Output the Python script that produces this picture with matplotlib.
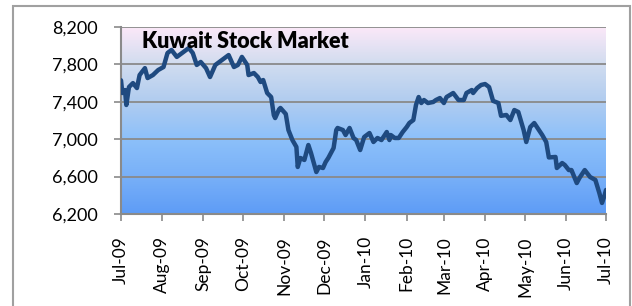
import matplotlib
matplotlib.use("Agg")
import matplotlib.pyplot as plt
import matplotlib.dates as mdates
from matplotlib.colors import LinearSegmentedColormap
from matplotlib.patches import Rectangle
import numpy as np
import datetime as dt

title = "Kuwait Stock Market"

dates = [
    "2009-07-01", "2009-07-02", "2009-07-04", "2009-07-05", "2009-07-07", "2009-07-10",
    "2009-07-13", "2009-07-15", "2009-07-19", "2009-07-21", "2009-07-25", "2009-07-29",
    "2009-08-02", "2009-08-05", "2009-08-08", "2009-08-12", "2009-08-16", "2009-08-21",
    "2009-08-24", "2009-08-27", "2009-08-30", "2009-09-03", "2009-09-06", "2009-09-10",
    "2009-09-15", "2009-09-20", "2009-09-24", "2009-09-27", "2009-09-30", "2009-10-04",
    "2009-10-05", "2009-10-09", "2009-10-12", "2009-10-14", "2009-10-16", "2009-10-19",
    "2009-10-22", "2009-10-24", "2009-10-25", "2009-10-28", "2009-10-29", "2009-11-02",
    "2009-11-04", "2009-11-07", "2009-11-10", "2009-11-11", "2009-11-13", "2009-11-16",
    "2009-11-19", "2009-11-21", "2009-11-25", "2009-11-27", "2009-11-30", "2009-12-02",
    "2009-12-04", "2009-12-08", "2009-12-10", "2009-12-11", "2009-12-15", "2009-12-17",
    "2009-12-20", "2009-12-23", "2009-12-25", "2009-12-28", "2009-12-31", "2010-01-04",
    "2010-01-07", "2010-01-10", "2010-01-13", "2010-01-17", "2010-01-19", "2010-01-20",
    "2010-01-23", "2010-01-26", "2010-01-29", "2010-02-01", "2010-02-03", "2010-02-06",
    "2010-02-08", "2010-02-10", "2010-02-12", "2010-02-14", "2010-02-17", "2010-02-21",
    "2010-02-23", "2010-02-26", "2010-03-01", "2010-03-03", "2010-03-08", "2010-03-12",
    "2010-03-16", "2010-03-18", "2010-03-22", "2010-03-23", "2010-03-26", "2010-03-29",
    "2010-04-01", "2010-04-04", "2010-04-07", "2010-04-11", "2010-04-13", "2010-04-17",
    "2010-04-20", "2010-04-23", "2010-04-26", "2010-04-30", "2010-05-02", "2010-05-05",
    "2010-05-08", "2010-05-10", "2010-05-14", "2010-05-17", "2010-05-19", "2010-05-24",
    "2010-05-25", "2010-05-29", "2010-05-31", "2010-06-03", "2010-06-05", "2010-06-09",
    "2010-06-11", "2010-06-15", "2010-06-19", "2010-06-23", "2010-06-26", "2010-06-28",
    "2010-06-30", "2010-07-01",
]

values = [
    7630, 7494, 7526, 7366, 7558, 7600,
    7547, 7686, 7760, 7654, 7686, 7740,
    7772, 7922, 7954, 7880, 7922, 7975,
    7922, 7794, 7826, 7760, 7665, 7794,
    7847, 7900, 7772, 7794, 7880, 7794,
    7686, 7708, 7665, 7612, 7633, 7494,
    7451, 7258, 7226, 7320, 7334, 7270,
    7098, 6991, 6917, 6703, 6799, 6778,
    6938, 6852, 6649, 6703, 6692, 6756,
    6799, 6906, 7098, 7120, 7098, 7045,
    7120, 7013, 6991, 6884, 7023, 7066,
    6970, 7013, 6991, 7077, 6991, 7045,
    7013, 7013, 7077, 7130, 7173, 7205,
    7366, 7451, 7387, 7419, 7387, 7398,
    7419, 7440, 7387, 7451, 7494, 7419,
    7419, 7494, 7526, 7494, 7547, 7580,
    7590, 7558, 7410, 7387, 7250, 7259,
    7205, 7312, 7291, 7098, 6970, 7130,
    7173, 7130, 7045, 6970, 6805, 6810,
    6692, 6745, 6724, 6670, 6670, 6531,
    6585, 6670, 6596, 6564, 6424, 6318,
    6403, 6457,
]

y_ticks = [6200, 6600, 7000, 7400, 7800, 8200]
x_start = "2009-07-01"
x_end = "2010-07-01"

plt.rcParams['font.family'] = ['Lato', 'DejaVu Sans']

W, H = 632, 306
fig = plt.figure(figsize=(W / 100, H / 100), dpi=100)
fig.patch.set_facecolor("white")

ax = fig.add_axes([121 / W, (H - 214) / H, (606 - 121) / W, (214 - 27) / H])

# gradient background
cmap = LinearSegmentedColormap.from_list(
    "bg",
    [(0.0, "#5e9cf6"), (0.2, "#78b0f8"), (0.4, "#8cc0fa"),
     (0.6, "#b0ccf0"), (0.8, "#d0dcef"), (1.0, "#fbe8f8")])
grad = np.linspace(0, 1, 256).reshape(-1, 1)
ax.imshow(grad, aspect="auto", cmap=cmap, origin="lower",
          extent=[0, 1, 0, 1], transform=ax.transAxes, zorder=0)

xd = [dt.datetime.strptime(d, "%Y-%m-%d") for d in dates]
ax.plot(xd, values, color="#1f4a80", lw=3.2, solid_joinstyle="round",
        solid_capstyle="round", zorder=3)

ax.set_xlim(dt.datetime.strptime(x_start, "%Y-%m-%d"),
            dt.datetime.strptime(x_end, "%Y-%m-%d"))
ax.set_ylim(y_ticks[0], y_ticks[-1])
ax.set_yticks(y_ticks)
ax.set_yticklabels([f"{v:,}" for v in y_ticks])
ax.xaxis.set_major_locator(mdates.MonthLocator())
ax.xaxis.set_major_formatter(mdates.DateFormatter("%b-%y"))

ax.grid(axis="y", color="#8a8a8a", lw=1.3, zorder=1)
ax.set_axisbelow(False)
for s in ["top", "right"]:
    ax.spines[s].set_visible(False)
for s in ["left", "bottom"]:
    ax.spines[s].set_color("#8a8a8a")
    ax.spines[s].set_linewidth(1.5)
    ax.spines[s].set_zorder(2)

ax.tick_params(axis="y", length=5, width=1.2, color="#8a8a8a", pad=12,
               labelsize=13, labelcolor="black")
ax.tick_params(axis="x", length=5, width=1.2, color="#8a8a8a", pad=11,
               labelsize=12.5, labelcolor="black", labelrotation=90)

ax.text(0.044, 0.925, title, transform=ax.transAxes, fontsize=15.5,
        fontweight="heavy", ha="left", va="center", zorder=4)

# outer chart border
fig.add_artist(Rectangle((13 / W, -0.1), (630 - 13) / W, 0.1 + (H - 6) / H,
                         transform=fig.transFigure, fill=False,
                         edgecolor="#a0a0a0", lw=1.5))

fig.savefig("out.png", dpi=100, facecolor="white")
